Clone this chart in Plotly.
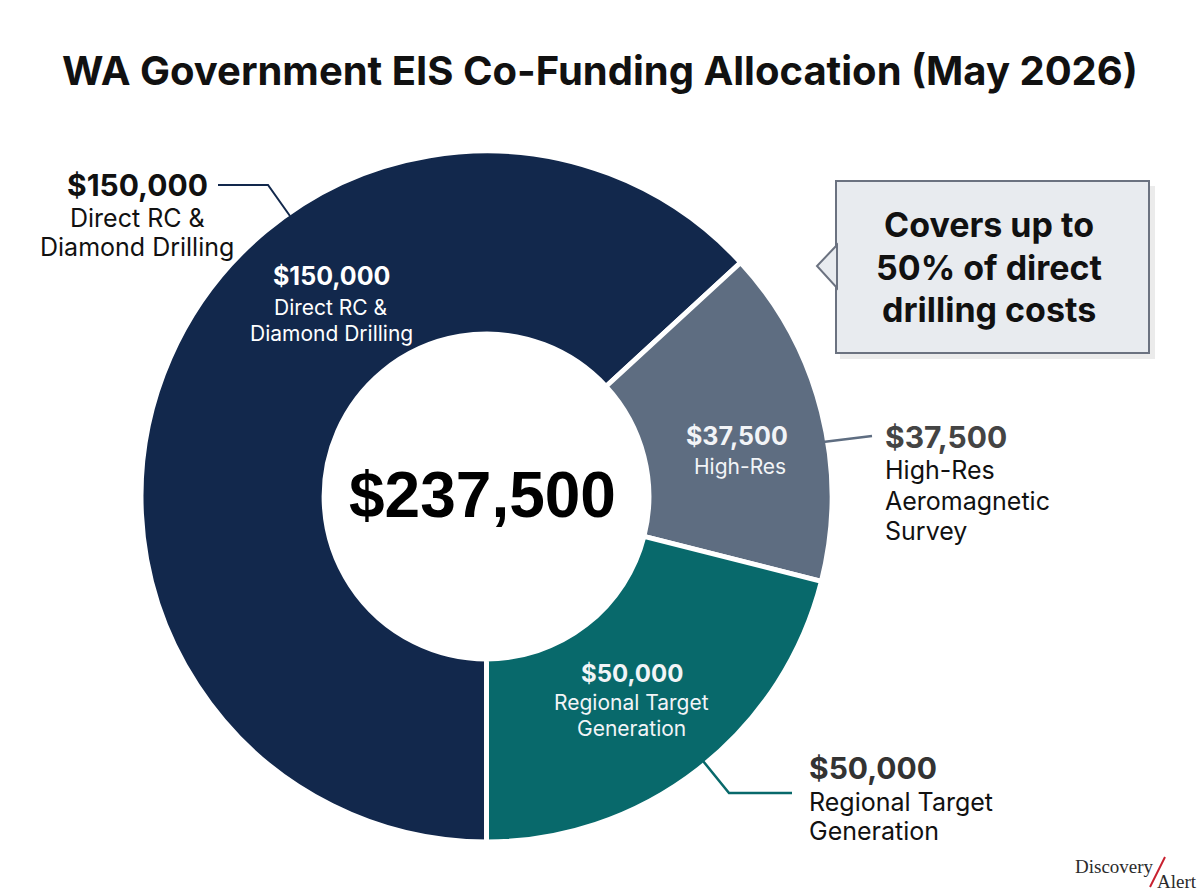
import plotly.graph_objects as go

W, H = 1200, 896

# data
categories = ["Direct RC & Diamond Drilling", "High-Res Aeromagnetic Survey", "Regional Target Generation"]
values = [150000, 37500, 50000]
colors = ["#12284C", "#5E6D81", "#08696B"]
total_label = "$237,500"
title = "WA Government EIS Co-Funding Allocation (May 2026)"
callout_lines = ["Covers up to", "50% of direct", "drilling costs"]

FONT = "Inter"


def px(x):
    return x / W


def py(y):
    return 1 - y / H


fig = go.Figure(go.Pie(
    labels=categories,
    values=values,
    hole=0.47,
    sort=False,
    direction="clockwise",
    rotation=180,
    marker=dict(colors=colors, line=dict(color="white", width=5)),
    textinfo="none",
    hovertemplate="%{label}<br>$%{value:,}<extra></extra>",
    domain=dict(x=[px(141), px(832)], y=[py(842), py(151)]),
    showlegend=False,
))

annotations = []


def label(x, y, text, size, color, bold=False, anchor="center", family=FONT):
    if bold:
        text = "<b>" + text + "</b>"
    annotations.append(dict(
        x=px(x), y=py(y), xref="paper", yref="paper", text=text,
        showarrow=False, xanchor=anchor, yanchor="middle",
        font=dict(family=family, size=size, color=color),
    ))


# title
label(600, 70, title, 40, "#111111", bold=True)

# center total
label(482, 495, total_label, 64, "#000000", bold=True, family="Liberation Sans")

# labels inside slices
label(331, 276, "$150,000", 25, "white", bold=True)
label(331, 307, "Direct RC &", 21, "white")
label(331, 333, "Diamond Drilling", 21, "white")

label(737, 436, "$37,500", 25, "#F2F4F7", bold=True)
label(740, 467, "High-Res", 21, "#F2F4F7")

label(632, 673, "$50,000", 24, "#F2F4F7", bold=True)
label(632, 702, "Regional Target", 21, "#F2F4F7")
label(632, 728, "Generation", 21, "#F2F4F7")

# labels outside
label(137, 185, "$150,000", 30, "#111111", bold=True)
label(137, 218, "Direct RC &", 25, "#111111")
label(137, 247, "Diamond Drilling", 25, "#111111")

label(883, 437, "$37,500", 30, "#444444", bold=True, anchor="left")
label(883, 470, "High-Res", 25, "#111111", anchor="left")
label(883, 501, "Aeromagnetic", 25, "#111111", anchor="left")
label(883, 531, "Survey", 25, "#111111", anchor="left")

label(807, 768, "$50,000", 30, "#333333", bold=True, anchor="left")
label(807, 802, "Regional Target", 25, "#111111", anchor="left")
label(807, 831, "Generation", 25, "#111111", anchor="left")

# callout text
for i, line in enumerate(callout_lines):
    label(989, 225 + 42 * i, line, 34, "#111111", bold=True)

# watermark
label(1114, 866, "Discovery", 19, "#2B2B2B", family="Liberation Serif")
label(1177, 881, "Alert", 19, "#2B2B2B", family="Liberation Serif")


def path(points, color, width, fill=None):
    d = "M " + " L ".join(f"{px(x)},{py(y)}" for x, y in points)
    if fill:
        d += " Z"
    return dict(type="path", xref="paper", yref="paper", path=d,
                line=dict(color=color, width=width),
                fillcolor=fill if fill else "rgba(0,0,0,0)", layer="above")


shapes = [
    # leader lines
    path([(218, 185), (268, 185), (290, 216)], "#12284C", 2),
    path([(823, 442), (872, 436)], "#5E6D81", 2.5),
    path([(703, 761), (729, 793), (792, 793)], "#08696B", 2.5),
    # callout shadow
    dict(type="rect", xref="paper", yref="paper", x0=px(840), x1=px(1155), y0=py(186), y1=py(359),
         fillcolor="rgba(0,0,0,0.08)", line=dict(width=0), layer="above"),
    # callout box
    dict(type="rect", xref="paper", yref="paper", x0=px(836), x1=px(1149), y0=py(181), y1=py(353),
         fillcolor="#E8EBEF", line=dict(color="#6B7280", width=2), layer="above"),
    path([(837, 245), (817, 266), (837, 288)], "#6B7280", 2, fill="#E8EBEF"),
    # watermark slash
    path([(1150, 887), (1165, 857)], "#C8202F", 2),
]

fig.update_layout(
    width=W, height=H,
    margin=dict(l=0, r=0, t=0, b=0),
    paper_bgcolor="white",
    plot_bgcolor="white",
    annotations=annotations,
    shapes=shapes,
)

fig.write_html("out.html", config={"displayModeBar": False},
               post_script="document.body.style.margin='0';")
